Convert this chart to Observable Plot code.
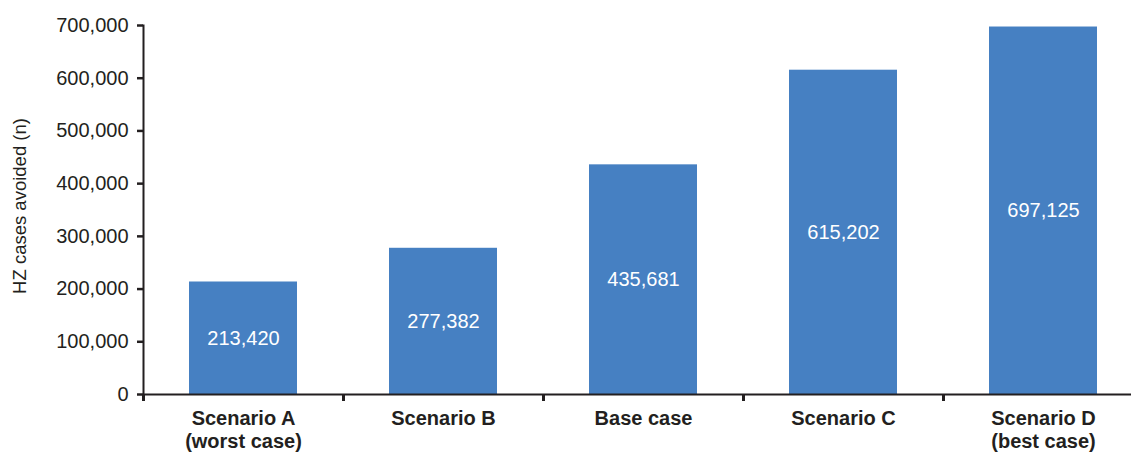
<!DOCTYPE html>
<html>
<head>
<meta charset="utf-8">
<script src="https://cdn.jsdelivr.net/npm/d3@7"></script>
<script src="https://cdn.jsdelivr.net/npm/@observablehq/plot@0.6"></script>
<style>
  html, body { margin: 0; padding: 0; background: #fff; }
  svg { display: block; }
</style>
</head>
<body>
<div id="chart"></div>
<script>
const categories = ["Scenario A", "Scenario B", "Base case", "Scenario C", "Scenario D"];
const categoryLabels = ["Scenario A\n(worst case)", "Scenario B", "Base case", "Scenario C", "Scenario D\n(best case)"];
const values = [213420, 277382, 435681, 615202, 697125];
const yTicks = [0, 100000, 200000, 300000, 400000, 500000, 600000, 700000];
const yLabel = "HZ cases avoided (n)";

const data = categories.map((c, i) => ({category: c, label: categoryLabels[i], value: values[i]}));
const fmt = d3.format(",");
const font = "Liberation Sans, Arial, Helvetica, sans-serif";
const ink = "#231f20";
const step = 200;

const chart = Plot.plot({
  width: 1131,
  height: 454,
  marginLeft: 143,
  marginRight: -12,
  marginTop: 25,
  marginBottom: 60,
  style: {fontFamily: font, background: "#fff", color: ink},
  x: {domain: categories, paddingInner: 0.46, paddingOuter: 0.23, label: null},
  y: {domain: [0, 700000], label: null},
  marks: [
    Plot.barY(data, {x: "category", y: "value", fill: "#4680c2"}),
    Plot.text(data, {x: "category", y: d => d.value / 2, text: d => fmt(d.value), fill: "#fff", fontSize: 20}),
    Plot.axisY({ticks: yTicks, tickFormat: fmt, tickSize: 6, tickPadding: 9, fontSize: 20, stroke: ink, strokeWidth: 2.5, fill: ink, label: null}),
    Plot.frame({anchor: "left", stroke: ink, strokeWidth: 2}),
    Plot.axisX({tickSize: 0, tickPadding: 14, tickFormat: (d) => categoryLabels[categories.indexOf(d)], fontSize: 20, fontWeight: "bold", lineHeight: 1.15, fill: ink, label: null}),
    Plot.ruleY([0], {stroke: ink, strokeWidth: 2}),
    Plot.ruleX(categories, {x: d => d, dx: -step / 2, y1: 0, y2: 0, insetBottom: -7, stroke: ink, strokeWidth: 3}),
    Plot.text([yLabel], {frameAnchor: "left", dx: -123, dy: -4, textAnchor: "middle", text: d => d, rotate: -90, fontSize: 18.5, fill: ink})
  ]
});
document.getElementById("chart").appendChild(chart);
</script>
</body>
</html>
